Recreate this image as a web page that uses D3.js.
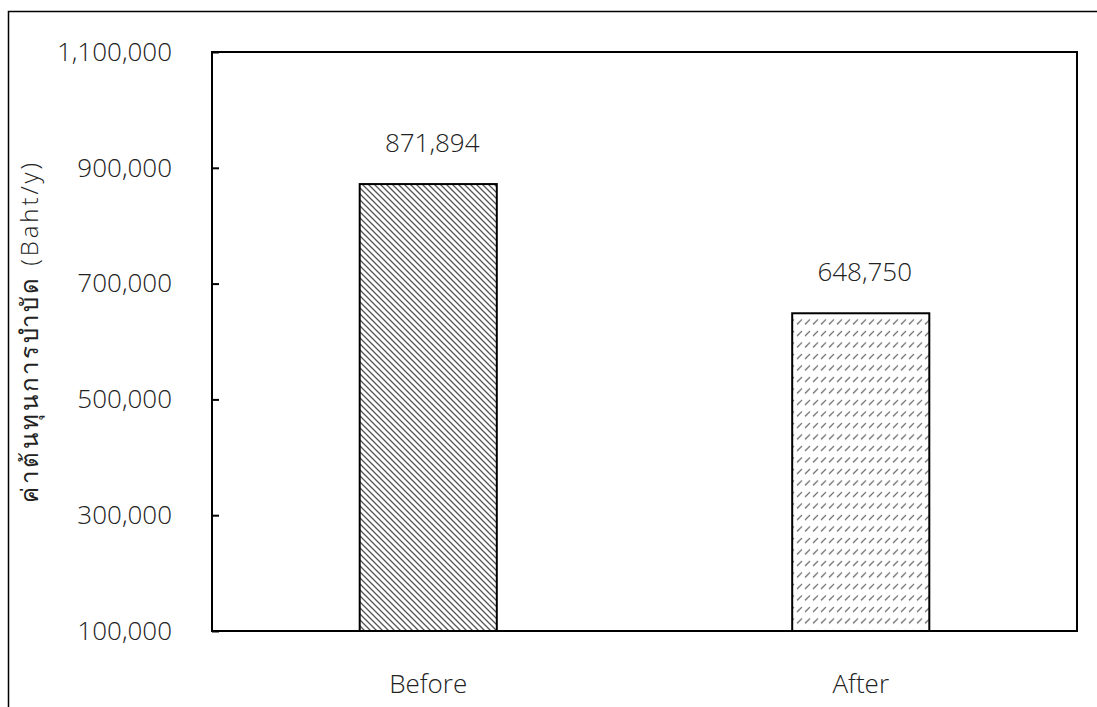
<!DOCTYPE html>
<html>
<head>
<meta charset="utf-8">
<script src="https://cdn.jsdelivr.net/npm/d3@7"></script>
<style>
  body { margin: 0; background: #fff; }
  svg { display: block; font-family: "Open Sans", "Noto Sans", "DejaVu Sans", sans-serif; font-weight: 300; }
</style>
</head>
<body>
<div id="chart"></div>
<script>
const categories = ["Before", "After"]
const values = [871894, 648750]
const yTicks = [100000, 300000, 500000, 700000, 900000, 1100000]
const yLabel = "ค่าต้นทุนการบำบัด (Baht/y)"

const W = 1097, H = 707
const margin = { top: 52, right: 20, bottom: 76, left: 212 }
const width = 1077 - margin.left
const height = 631 - margin.top

const svg = d3.select("#chart").append("svg")
    .attr("width", W)
    .attr("height", H)

// outer frame (runs off the right and bottom edges)
svg.append("rect")
    .attr("x", 8.5).attr("y", 11.5)
    .attr("width", 1200).attr("height", 900)
    .attr("fill", "none").attr("stroke", "#000").attr("stroke-width", 1.5)

const defs = svg.append("defs")

// Before: dense backslash hatch
const p1 = defs.append("pattern")
    .attr("id", "hatchBefore")
    .attr("patternUnits", "userSpaceOnUse")
    .attr("width", 6).attr("height", 6)
p1.append("rect").attr("width", 6).attr("height", 6).attr("fill", "#fff")
p1.append("path")
    .attr("d", "M-1,-1 L7,7 M-1,5 L1,7 M5,-1 L7,1")
    .attr("stroke", "#555").attr("stroke-width", 1.3)

// After: rows of short slash dashes
const p2 = defs.append("pattern")
    .attr("id", "hatchAfter")
    .attr("patternUnits", "userSpaceOnUse")
    .attr("width", 8).attr("height", 11.5)
p2.append("rect").attr("width", 8).attr("height", 11.5).attr("fill", "#fff")
p2.append("path")
    .attr("d", "M1,8 L6,3")
    .attr("stroke", "#666").attr("stroke-width", 1.3)

const g = svg.append("g")
    .attr("transform", `translate(${margin.left},${margin.top})`)

const x = d3.scaleBand()
    .domain(categories)
    .range([0, width])
    .paddingInner(0.683)
    .paddingOuter(0.3415)

const y = d3.scaleLinear()
    .domain([100000, 1100000])
    .range([height, 0])

// plot frame
g.append("rect")
    .attr("width", width).attr("height", height)
    .attr("fill", "none").attr("stroke", "#000").attr("stroke-width", 2)

const yAxis = d3.axisLeft(y)
    .tickValues(yTicks)
    .tickFormat(d3.format(","))
    .tickSizeInner(-7)
    .tickSizeOuter(0)
    .tickPadding(40)

const ya = g.append("g").call(yAxis)
    .attr("font-family", null)
    .attr("font-size", null)
ya.select(".domain").remove()
ya.selectAll(".tick line").attr("stroke", "#000").attr("stroke-width", 2)
ya.selectAll("text")
    .attr("font-size", 26)
    .attr("fill", "#222")

// bars
g.selectAll(".bar")
  .data(values)
  .join("rect")
    .attr("class", "bar")
    .attr("x", (d, i) => x(categories[i]))
    .attr("y", d => y(d))
    .attr("width", x.bandwidth())
    .attr("height", d => height - y(d))
    .attr("fill", (d, i) => i == 0 ? "url(#hatchBefore)" : "url(#hatchAfter)")
    .attr("stroke", "#000")
    .attr("stroke-width", 2)

// value labels
g.selectAll(".val")
  .data(values)
  .join("text")
    .attr("class", "val")
    .attr("x", (d, i) => x(categories[i]) + x.bandwidth() / 2 + 4)
    .attr("y", d => y(d) - 32)
    .attr("text-anchor", "middle")
    .attr("font-size", 26)
    .attr("fill", "#222")
    .text(d3.format(","))

// category labels
g.selectAll(".cat")
  .data(categories)
  .join("text")
    .attr("class", "cat")
    .attr("x", d => x(d) + x.bandwidth() / 2)
    .attr("y", height + 62)
    .attr("text-anchor", "middle")
    .attr("font-size", 26)
    .attr("fill", "#222")
    .text(d => d)

// y axis title
svg.append("text")
    .attr("transform", `translate(38,333) rotate(-90)`)
    .attr("text-anchor", "middle")
    .attr("font-size", 24)
    .attr("textLength", 340)
    .attr("lengthAdjust", "spacing")
    .attr("fill", "#222")
    .text(yLabel)
</script>
</body>
</html>
